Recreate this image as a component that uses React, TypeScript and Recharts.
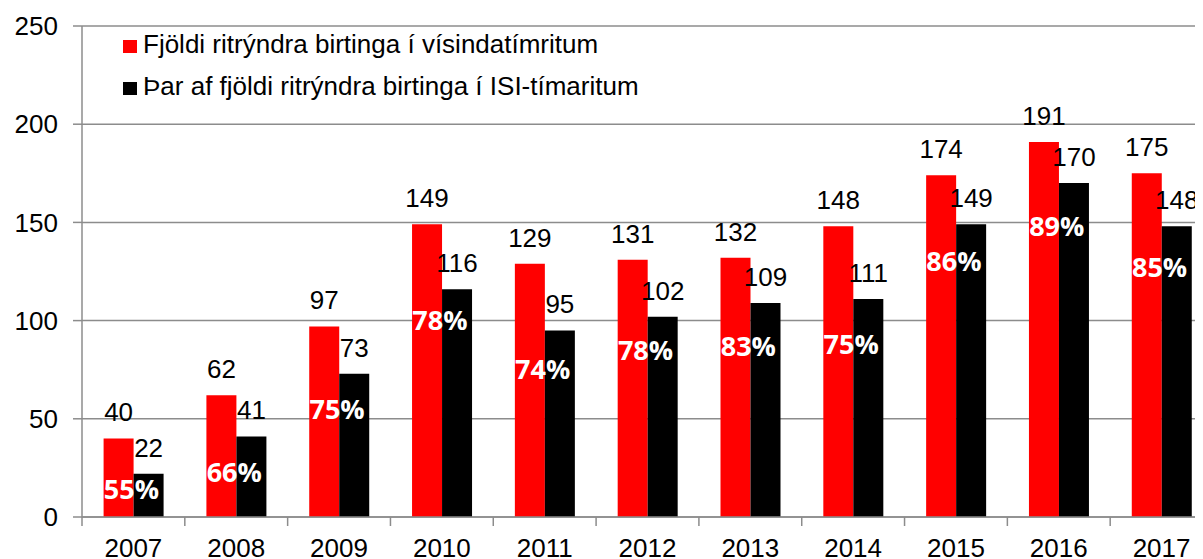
import { Bar, CartesianGrid, ComposedChart, LabelList, Line, XAxis, YAxis } from "recharts";

const years = ["2007", "2008", "2009", "2010", "2011", "2012", "2013", "2014", "2015", "2016", "2017"];
const totalPubs = [40, 62, 97, 149, 129, 131, 132, 148, 174, 191, 175];
const isiPubs = [22, 41, 73, 116, 95, 102, 109, 111, 149, 170, 148];
const isiShare = ["55%", "66%", "75%", "78%", "74%", "78%", "83%", "75%", "86%", "89%", "85%"];
// height (in axis units) where each share label sits
const shareLabelAt = [14, 23, 55, 100, 75, 85, 87, 88, 130, 148, 127];
const yTicks = [0, 50, 100, 150, 200, 250];

const series = [
  { key: "total", name: "Fjöldi ritrýndra birtinga í vísindatímritum", color: "#FF0000" },
  { key: "isi", name: "Þar af fjöldi ritrýndra birtinga í ISI-tímaritum", color: "#000000" }
];

const rows = years.map((year, i) => ({
  year,
  total: totalPubs[i],
  isi: isiPubs[i],
  share: isiShare[i],
  shareAt: shareLabelAt[i]
}));

const FONT = "'Liberation Sans', Arial, sans-serif";
const GRID = "#8c8c8c";

function YearTick(props: any) {
  const { x, y, payload, width, visibleTicksCount, index } = props;
  const half = payload?.offset ?? width / visibleTicksCount / 2;
  return (
    <g>
      <line x1={x - half} x2={x - half} y1={y} y2={y + 9} stroke={GRID} strokeWidth={1.5} />
      {index === visibleTicksCount - 1 && (
        <line x1={x + half} x2={x + half} y1={y} y2={y + 9} stroke={GRID} strokeWidth={1.5} />
      )}
      <text x={x} y={y + 40} textAnchor="middle" fontSize={26} fontFamily={FONT} fill="#000">
        {payload.value}
      </text>
    </g>
  );
}

function ShareLabel(props: any) {
  const { x, y, value } = props;
  return (
    <text
      x={x - 2}
      y={y}
      dy="0.36em"
      textAnchor="middle"
      fill="#ffffff"
      fontSize={27}
      fontWeight={700}
      fontFamily="'Open Sans', sans-serif"
    >
      {value}
    </text>
  );
}

export default function App() {
  return (
    <div style={{ margin: -8, width: 1203, height: 567, overflow: "hidden", position: "relative", background: "#fff" }}>
      <ComposedChart
        width={1215}
        height={580}
        data={rows}
        margin={{ top: 26, right: 2, left: 0, bottom: 0 }}
        barCategoryGap="21%"
        barGap={0}
      >
        <CartesianGrid vertical={false} stroke={GRID} strokeWidth={1.5} />
        <YAxis
          type="number"
          domain={[0, 250]}
          ticks={yTicks}
          width={82}
          tickSize={9}
          tickMargin={15}
          axisLine={{ stroke: GRID, strokeWidth: 1.5 }}
          tickLine={{ stroke: GRID, strokeWidth: 1.5 }}
          tick={{ fontSize: 26, fill: "#000", fontFamily: FONT }}
        />
        <XAxis
          dataKey="year"
          height={63}
          tickSize={0}
          tickMargin={0}
          axisLine={{ stroke: GRID, strokeWidth: 1.5 }}
          tickLine={false}
          tick={<YearTick />}
          interval={0}
        />
        {series.map((s) => (
          <Bar key={s.key} dataKey={s.key} name={s.name} fill={s.color} isAnimationActive={false}>
            <LabelList
              dataKey={s.key}
              position="top"
              offset={17}
              fill="#000"
              fontSize={26}
              fontFamily={FONT}
            />
          </Bar>
        ))}
        <Line
          dataKey="shareAt"
          stroke="none"
          dot={false}
          activeDot={false}
          legendType="none"
          isAnimationActive={false}
        >
          <LabelList dataKey="share" content={<ShareLabel />} />
        </Line>
      </ComposedChart>
      {series.map((s, i) => (
        <div key={s.key} style={{ position: "absolute", left: 123, top: 29 + i * 42, height: 30 }}>
          <span
            style={{
              position: "absolute",
              left: 0,
              top: 10.5,
              width: 13.5,
              height: 13.5,
              background: s.color
            }}
          />
          <span
            style={{
              position: "absolute",
              left: 20,
              top: 0,
              whiteSpace: "nowrap",
              fontFamily: FONT,
              fontSize: 26,
              lineHeight: "30px",
              color: "#000"
            }}
          >
            {s.name}
          </span>
        </div>
      ))}
    </div>
  );
}
